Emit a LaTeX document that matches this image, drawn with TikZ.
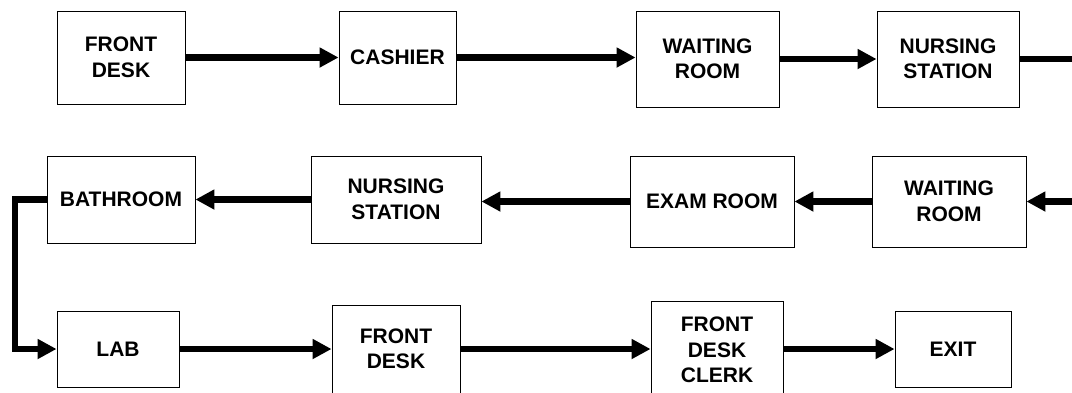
\documentclass[tikz,border=0pt]{standalone}
\usepackage{fontspec}
\setmainfont{Liberation Sans}
\usetikzlibrary{arrows.meta}

\begin{document}
\begin{tikzpicture}[x=1pt,y=-1pt,
    room/.style={draw,line width=0.9pt,align=center,inner sep=0pt,
      font=\fontsize{21}{25.5}\selectfont\bfseries},
    flow/.style={line width=6.5pt,-{Triangle[length=19pt,width=19pt]}}]
    \clip (0,0) rectangle (1072,392);
    \node[room,minimum width=128pt,minimum height=93pt] (fd1) at (121,57.5) {FRONT\\DESK};
    \node[room,minimum width=117pt,minimum height=93pt] (cash) at (397.5,57.5) {CASHIER};
    \node[room,minimum width=143pt,minimum height=96pt] (wr1) at (707.5,59) {WAITING\\ROOM};
    \node[room,minimum width=142pt,minimum height=96pt] (ns1) at (948,59) {NURSING\\STATION};
    \node[room,minimum width=148pt,minimum height=87pt] (bath) at (121,199.5) {BATHROOM};
    \node[room,minimum width=170pt,minimum height=87pt] (ns2) at (396,199.5) {NURSING\\STATION};
    \node[room,minimum width=164pt,minimum height=91pt] (exam) at (712,201.5) {EXAM ROOM};
    \node[room,minimum width=154pt,minimum height=91pt] (wr2) at (949,201.5) {WAITING\\ROOM};
    \node[room,minimum width=122pt,minimum height=76pt] (lab) at (118,349) {LAB};
    \node[room,minimum width=128pt,minimum height=88pt] (fd2) at (396,349) {FRONT\\DESK};
    \node[room,minimum width=132pt,minimum height=98pt] (clerk) at (717,350) {FRONT\\DESK\\CLERK};
    \node[room,minimum width=116pt,minimum height=76pt] (exit) at (953,349) {EXIT};
    \coordinate (turnR) at (1090,58);
    \coordinate (turnL) at (15,199);
    \draw[flow] (fd1.east) -- (fd1.east -| cash.west);
    \draw[flow] (cash.east) -- (cash.east -| wr1.west);
    \draw[flow] (wr1.east) -- (wr1.east -| ns1.west);
    \draw[flow] (ns1.east) -- (ns1.east -| turnR) |- (wr2.east);
    \draw[flow] (wr2.west) -- (wr2.west -| exam.east);
    \draw[flow] (exam.west) -- (exam.west -| ns2.east);
    \draw[flow] (ns2.west) -- (ns2.west -| bath.east);
    \draw[flow] (bath.west) -- (bath.west -| turnL) |- (lab.west);
    \draw[flow] (lab.east) -- (lab.east -| fd2.west);
    \draw[flow] (fd2.east) -- (fd2.east -| clerk.west);
    \draw[flow] (clerk.east |- lab.east) -- (exit.west);
\end{tikzpicture}
\end{document}
